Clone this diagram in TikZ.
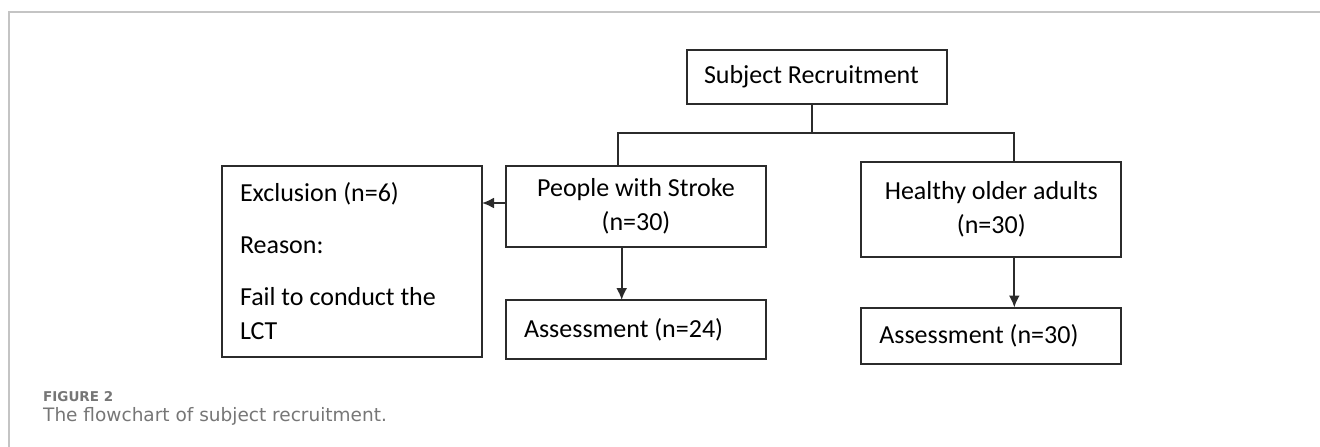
\documentclass[tikz,border=0pt]{standalone}
\usepackage{fontspec}
\setmainfont{Carlito}
\newfontfamily\captionFont{DejaVu Sans}
\usepackage{xcolor}
\definecolor{LINECOLOR}{HTML}{2B2B2B}
\definecolor{FRAMECOLOR}{HTML}{C4C4C4}
\definecolor{CAPTIONCOLOR}{HTML}{767676}
\usetikzlibrary{arrows.meta,positioning,calc}
\tikzset{
  box-style/.style = {
    rectangle, draw=LINECOLOR, line width=2pt,
    minimum width=260pt,
    inner sep=0pt, outer sep=0pt,
    font=\fontsize{26}{34}\selectfont
  },
  center-box-style/.style = {
    box-style, align=center
  },
  left-box-style/.style = {
    box-style, inner xsep=18pt, text width=224pt, align=flush left
  },
  link-style/.style = {draw=LINECOLOR, line width=2pt},
  arrow-style/.style = {link-style, ->, >={Latex[length=12pt,width=11pt]}},
  frame-style/.style = {draw=FRAMECOLOR, line width=1.5pt},
  caption-style/.style = {
    anchor=base west, inner sep=0pt, text=CAPTIONCOLOR
  }
}
\newcommand\figureLabel[1]{\captionFont\bfseries\fontsize{13.5}{16}\selectfont #1}
\newcommand\figureText[1]{\captionFont\fontsize{18.5}{22}\selectfont #1}

\begin{document}
\begin{tikzpicture}[x=1pt,y=-1pt]
  \useasboundingbox (0,0) rectangle (1320,447);
  \draw[frame-style] (9,447) -- (9,12) -- (1320,12);

  \node[left-box-style, inner xsep=17pt, text width=226pt, minimum height=54.5pt] (recruit) at (817,77) {Subject Recruitment};
  \node[center-box-style, minimum height=81.6pt] (stroke) at (636,206.5) {People with Stroke\\(n=30)};
  \node[center-box-style, minimum height=95pt] (healthy) at (991.3,209) {Healthy older adults\\(n=30)};
  \node[left-box-style, minimum height=191pt, below left=0pt and 24pt of stroke.north west] (exclusion)
    {Exclusion (n=6)\\[18pt]Reason:\\[18pt]Fail to conduct the\\LCT};
  \node[left-box-style, minimum height=59.3pt, below=52.7pt of stroke] (assess-stroke) {Assessment (n=24)};
  \node[left-box-style, minimum height=56pt, below=51pt of healthy] (assess-healthy) {Assessment (n=30)};

  \coordinate (split) at (812,133.3);
  \draw[link-style] (split |- recruit.south) -- (split);
  \draw[link-style] ([xshift=-18.3pt]stroke.north) |- (split) -| ([xshift=23pt]healthy.north);
  \draw[arrow-style] ([yshift=3.5pt]stroke.west) -- ([yshift=3.5pt]stroke.west -| exclusion.east);
  \draw[arrow-style] ([xshift=-14.3pt]stroke.south) -- ([xshift=-14.3pt]stroke.south |- assess-stroke.north);
  \draw[arrow-style] ([xshift=23pt]healthy.south) -- ([xshift=23pt]healthy.south |- assess-healthy.north);

  \node[caption-style] (fig-label) at (43,401) {\figureLabel{FIGURE 2}};
  \node[caption-style] (fig-text) at (43,421) {\figureText{The flowchart of subject recruitment.}};
\end{tikzpicture}
\end{document}
